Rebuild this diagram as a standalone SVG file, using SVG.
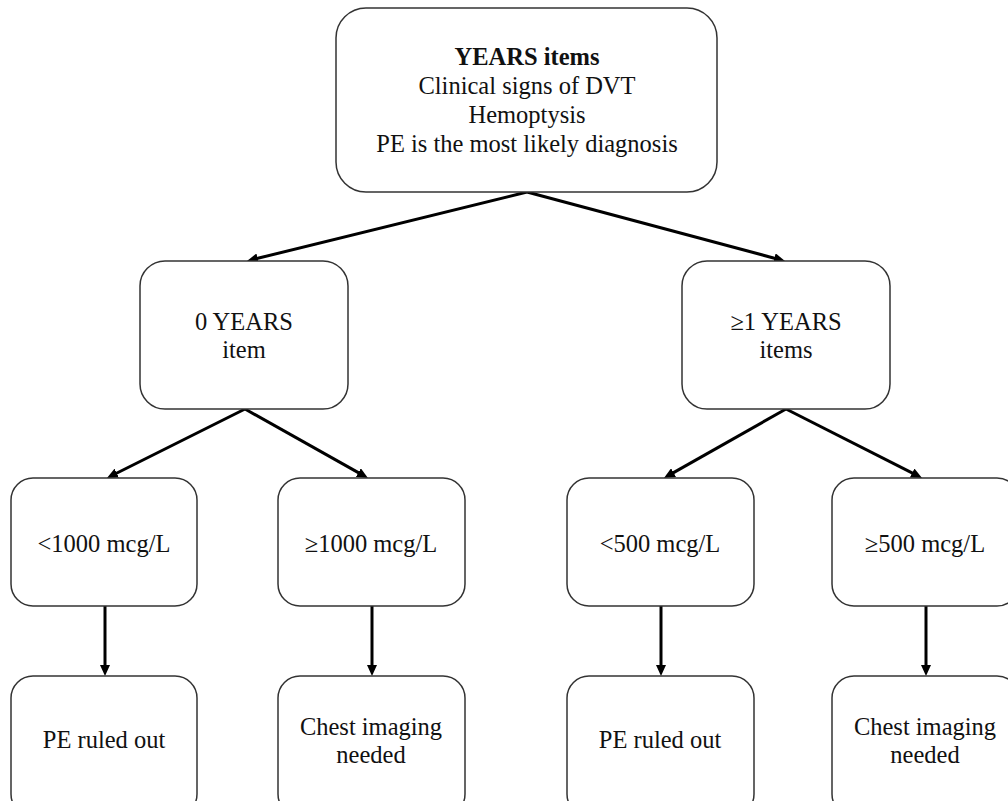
<svg xmlns="http://www.w3.org/2000/svg" width="1008" height="801" viewBox="0 0 1008 801">
  <style>
    .box { fill: #ffffff; stroke: #333333; stroke-width: 1.5; }
    text { font-family: 'Liberation Serif', 'Times New Roman', Tinos, 'DejaVu Serif', serif; font-size: 24.5px; fill: #111111; text-anchor: middle; }
    .bold { font-weight: bold; }
    .arrow { fill: none; stroke: #000000; stroke-width: 3; marker-end: url(#head); }
  </style>
  <defs>
    <marker id="head" markerUnits="userSpaceOnUse" markerWidth="11" markerHeight="10" refX="2" refY="5" orient="auto">
      <path d="M0,0 L11,5 L0,10 z" fill="#000000"/>
    </marker>
  </defs>
  <rect width="1008" height="801" fill="#ffffff"/>

  <!-- connectors -->
  <g id="connectors">
    <path class="arrow" d="M527,192 L255.7,258.8"/>
    <path class="arrow" d="M527,192 L776.3,258.7"/>
    <path class="arrow" d="M245,409 L115,474"/>
    <path class="arrow" d="M245,409 L360.1,473.6"/>
    <path class="arrow" d="M786,409 L671.8,473.6"/>
    <path class="arrow" d="M786,409 L914,473.9"/>
    <path class="arrow" d="M105,606 L105,667"/>
    <path class="arrow" d="M372,606 L372,667"/>
    <path class="arrow" d="M661,606 L661,667"/>
    <path class="arrow" d="M926,606 L926,667"/>
  </g>

  <g font-family="Liberation Serif, Times New Roman, serif">
    <!-- root: criteria -->
    <g id="years-items">
      <rect class="box" x="336" y="8" width="381" height="184" rx="30" ry="30"/>
      <text class="bold" x="527" y="65">YEARS items</text>
      <text x="527" y="94">Clinical signs of DVT</text>
      <text x="527" y="123">Hemoptysis</text>
      <text x="527" y="152">PE is the most likely diagnosis</text>
    </g>

    <!-- second level -->
    <g id="zero-items">
      <rect class="box" x="140" y="261" width="208" height="148" rx="25" ry="25"/>
      <text x="244" y="330">0 YEARS</text>
      <text x="244" y="358">item</text>
    </g>
    <g id="one-or-more-items">
      <rect class="box" x="682" y="261" width="208" height="148" rx="25" ry="25"/>
      <text x="786" y="330">≥1 YEARS</text>
      <text x="786" y="358">items</text>
    </g>

    <!-- D-dimer thresholds -->
    <g id="below-1000">
      <rect class="box" x="11" y="478" width="186" height="128" rx="22" ry="22"/>
      <text x="104" y="552">&lt;1000 mcg/L</text>
    </g>
    <g id="above-1000">
      <rect class="box" x="278" y="478" width="187" height="128" rx="22" ry="22"/>
      <text x="371" y="552">≥1000 mcg/L</text>
    </g>
    <g id="below-500">
      <rect class="box" x="567" y="478" width="187" height="128" rx="22" ry="22"/>
      <text x="660" y="552">&lt;500 mcg/L</text>
    </g>
    <g id="above-500">
      <rect class="box" x="832" y="478" width="187" height="128" rx="22" ry="22"/>
      <text x="925" y="552">≥500 mcg/L</text>
    </g>

    <!-- outcomes -->
    <g id="ruled-out-left">
      <rect class="box" x="11" y="676" width="186" height="140" rx="22" ry="22"/>
      <text x="104" y="748">PE ruled out</text>
    </g>
    <g id="imaging-left">
      <rect class="box" x="278" y="676" width="187" height="140" rx="22" ry="22"/>
      <text x="371" y="735">Chest imaging</text>
      <text x="371" y="763">needed</text>
    </g>
    <g id="ruled-out-right">
      <rect class="box" x="567" y="676" width="187" height="140" rx="22" ry="22"/>
      <text x="660" y="748">PE ruled out</text>
    </g>
    <g id="imaging-right">
      <rect class="box" x="832" y="676" width="187" height="140" rx="22" ry="22"/>
      <text x="925" y="735">Chest imaging</text>
      <text x="925" y="763">needed</text>
    </g>
  </g>
</svg>
